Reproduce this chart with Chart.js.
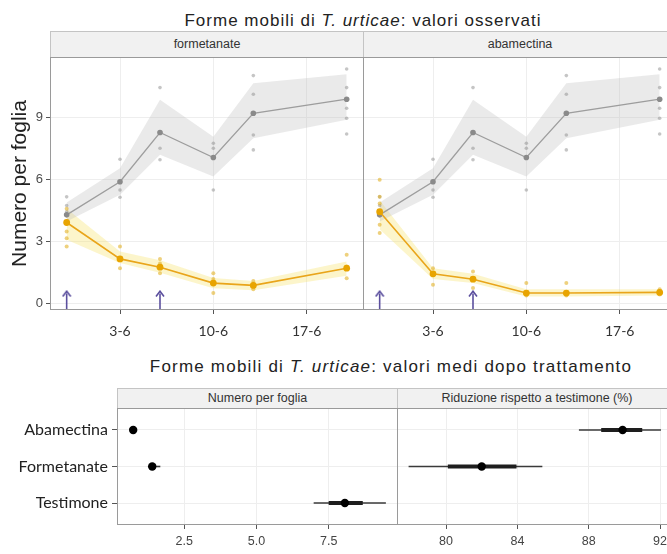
<!DOCTYPE html>
<html>
<head>
<meta charset="utf-8">
<script src="https://cdn.jsdelivr.net/npm/chart.js@4.4.1/dist/chart.umd.min.js"></script>
<style>
  html, body { margin: 0; padding: 0; background: #fff; }
  body { width: 667px; height: 554px; position: relative; overflow: hidden; font-family: "Liberation Sans", Arial, sans-serif; }
  .box { position: absolute; }
  .title { position: absolute; text-align: center; font-size: 17px; color: #222; white-space: nowrap; }
  .strip { position: absolute; box-sizing: border-box; background: #f1f1f1; border: 1px solid #c4c4c4; text-align: center; font-size: 12.5px; color: #333; }
</style>
</head>
<body>
<div class="title" style="left:50px; width:626px; top:11px; letter-spacing:1px">Forme mobili di <i>T. urticae</i>: valori osservati</div>
<div class="strip" style="left:50px; top:31px; width:314px; height:27px; line-height:25px">formetanate</div>
<div class="strip" style="left:363px; top:31px; width:314px; height:27px; line-height:25px">abamectina</div>
<div class="box" style="left:0; top:57px; width:364px; height:290px"><canvas id="obsForm"></canvas></div>
<div class="box" style="left:363px; top:57px; width:314px; height:290px"><canvas id="obsAba"></canvas></div>

<div class="title" style="left:111px; width:560px; top:357px; letter-spacing:1.2px">Forme mobili di <i>T. urticae</i>: valori medi dopo trattamento</div>
<div class="strip" style="left:117px; top:388px; width:281px; height:21px; line-height:19px">Numero per foglia</div>
<div class="strip" style="left:397px; top:388px; width:280px; height:21px; line-height:19px">Riduzione rispetto a testimone (%)</div>
<div class="box" style="left:0; top:408px; width:398px; height:146px"><canvas id="meanNum"></canvas></div>
<div class="box" style="left:397px; top:408px; width:280px; height:146px"><canvas id="meanRed"></canvas></div>

<script>
// days from 3-6
const days = [-4, 0, 3, 7, 10, 17];
const dayTicks = [0, 7, 14];
const dayLabels = ["3-6", "10-6", "17-6"];
const treatDays = [-4, 3];
const countTicks = [0, 3, 6, 9];

// testimone (same control in both panels)
const testMean = [4.3, 5.9, 8.28, 7.07, 9.21, 9.89];
const testLo = [3.98, 5.27, 7.2, 6.15, 8.0, 8.9];
const testHi = [4.9, 6.55, 9.86, 8.08, 10.66, 11.1];
const testObs = [[5.17, 4.75, 4.45], [6.99, 5.5, 5.15], [10.45, 7.52, 6.96], [7.76, 7.52, 5.5], [11.03, 10.13, 8.16, 7.44], [11.35, 10.45, 9.45, 8.97, 8.21]];

// formetanate
const formMean = [3.93, 2.17, 1.77, 1.0, 0.89, 1.72];
const formLo = [3.1, 1.97, 1.5, 0.75, 0.65, 1.35];
const formHi = [4.6, 2.53, 2.1, 1.25, 1.1, 2.05];
const formObs = [[4.6, 3.5, 3.17, 2.77], [2.77, 2.2, 1.72], [2.17, 1.95, 1.48], [1.48, 1.2, 0.52], [1.1, 0.95, 0.7], [2.37, 1.8, 1.24]];

// abamectina
const abaMean = [4.45, 1.45, 1.19, 0.52, 0.52, 0.55];
const abaLo = [3.6, 1.2, 1.0, 0.35, 0.35, 0.4];
const abaHi = [5.0, 1.72, 1.45, 0.7, 0.7, 0.7];
const abaObs = [[6.0, 5.18, 4.85, 3.82, 3.42], [1.72, 1.45, 0.92], [1.56, 1.2, 0.76], [1.0, 0.5, 0.4], [1.0, 0.5, 0.4], [0.7, 0.55, 0.45]];

// medie dopo trattamento
const products = ["Abamectina", "Formetanate", "Testimone"];
const numMean = [0.73, 1.39, 8.06];
const numLo95 = [0.64, 1.24, 6.98];
const numHi95 = [0.83, 1.67, 9.48];
const numLo50 = [0.68, 1.3, 7.5];
const numHi50 = [0.78, 1.52, 8.68];
const numTicks = [2.5, 5, 7.5];

const redMean = [89.9, 82.0];
const redLo95 = [87.45, 77.9];
const redHi95 = [92.05, 85.4];
const redLo50 = [88.7, 80.1];
const redHi50 = [91.0, 83.95];
const redTicks = [80, 84, 88, 92];

const panelBorder = {
  id: "panelBorder",
  afterDraw(chart) {
    const a = chart.chartArea, c = chart.ctx;
    c.save();
    c.strokeStyle = "#9a9a9a";
    c.lineWidth = 1;
    c.strokeRect(a.left + 0.5, a.top + 0.5, a.right - a.left - 1, a.bottom - a.top - 1);
    c.restore();
  }
};

function arrowHead() {
  const c = document.createElement("canvas");
  c.width = 10; c.height = 7;
  const g = c.getContext("2d");
  g.strokeStyle = "#5b4f9e";
  g.lineWidth = 1.6;
  g.beginPath();
  g.moveTo(1, 6.5); g.lineTo(5, 1.2); g.lineTo(9, 6.5);
  g.stroke();
  return c;
}
const arrowImg = arrowHead();

const line = (vals) => days.map((d, i) => ({ x: d, y: vals[i] }));
const cloud = (obs) => obs.flatMap((list, i) => list.map(v => ({ x: days[i], y: v })));

// no extra room for half tick labels: plot area must sit right under the strips
function fitX(h) {
  return s => { s.height = h; s.paddingLeft = 0; s.paddingRight = 0; };
}
function fitY(w) {
  return s => { s.width = w; s.paddingTop = 0; s.paddingBottom = 0; };
}

function band(hi, lo, color) {
  return [
    { data: line(hi), showLine: true, fill: "+1", backgroundColor: color, borderWidth: 0, pointRadius: 0, order: 10 },
    { data: line(lo), showLine: true, fill: false, borderWidth: 0, pointRadius: 0, order: 10 }
  ];
}

function obsChart(id, mean, lo, hi, obs, showY) {
  const datasets = [
    ...band(testHi, testLo, "rgba(190,190,190,0.32)"),
    ...band(hi, lo, "rgba(246,226,110,0.36)"),
    { data: cloud(testObs), pointRadius: 1.8, backgroundColor: "rgba(150,150,150,0.55)", borderWidth: 0, order: 6 },
    { data: cloud(obs), pointRadius: 2, backgroundColor: "rgba(226,178,40,0.6)", borderWidth: 0, order: 5 },
    { data: line(testMean), showLine: true, borderColor: "#9d9d9d", borderWidth: 1.3, pointRadius: 2.8, backgroundColor: "#8a8a8a", pointBorderWidth: 0, order: 3 },
    { data: line(mean), showLine: true, borderColor: "#e9a51a", borderWidth: 1.6, pointRadius: 3.4, backgroundColor: "#e8a400", pointBorderWidth: 0, order: 2 },
    ...treatDays.map(d => ({
      data: [{ x: d, y: -0.3 }, { x: d, y: 0.5 }], showLine: true, borderColor: "#5b4f9e", borderWidth: 1.6,
      pointRadius: [0, 3], pointStyle: arrowImg, order: 1
    }))
  ];
  return new Chart(document.getElementById(id), {
    type: "scatter",
    data: { datasets },
    plugins: [panelBorder],
    options: {
      responsive: true,
      maintainAspectRatio: false,
      animation: false,
      layout: { padding: 0, autoPadding: false },
      plugins: { legend: { display: false }, tooltip: { enabled: false } },
      scales: {
        x: {
          type: "linear", min: -5.25, max: 18.3,
          afterBuildTicks: s => { s.ticks = dayTicks.map(v => ({ value: v })); },
          afterFit: fitX(37),
          ticks: { callback: v => dayLabels[dayTicks.indexOf(v)], font: { family: "Lato", size: 14 }, color: "#333", padding: 9, maxRotation: 0 },
          grid: { color: "#eeeeee", tickColor: "#555", tickLength: 4 },
          border: { display: false }
        },
        y: {
          type: "linear", min: -0.3, max: 11.93,
          afterBuildTicks: s => { s.ticks = countTicks.map(v => ({ value: v })); },
          afterFit: fitY(showY ? 50 : 0),
          ticks: { display: showY, font: { family: "Liberation Sans", size: 13 }, color: "#4d4d4d", padding: 3 },
          grid: { color: "#eeeeee", tickColor: "#555", tickLength: 4, drawTicks: showY },
          border: { display: false },
          title: { display: showY, text: "Numero per foglia", font: { family: "Liberation Sans", size: 21 }, color: "#222", padding: { top: 8, bottom: 0 } }
        }
      }
    }
  });
}

function meanChart(id, mean, lo95, hi95, lo50, hi50, xmin, xmax, ticks, fmt, showY) {
  const datasets = [
    { data: mean.map((m, i) => ({ x: m, y: i + 1 })), pointRadius: 4.2, backgroundColor: "#000", borderWidth: 0, order: 1 }
  ];
  mean.forEach((m, i) => {
    datasets.push({ data: [{ x: lo50[i], y: i + 1 }, { x: hi50[i], y: i + 1 }], showLine: true, borderColor: "#1e1e1e", borderWidth: 4, pointRadius: 0, order: 2 });
    datasets.push({ data: [{ x: lo95[i], y: i + 1 }, { x: hi95[i], y: i + 1 }], showLine: true, borderColor: "#3a3a3a", borderWidth: 1.6, pointRadius: 0, order: 3 });
  });
  return new Chart(document.getElementById(id), {
    type: "scatter",
    data: { datasets },
    plugins: [panelBorder],
    options: {
      responsive: true,
      maintainAspectRatio: false,
      animation: false,
      layout: { padding: 0, autoPadding: false },
      plugins: { legend: { display: false }, tooltip: { enabled: false } },
      scales: {
        x: {
          type: "linear", min: xmin, max: xmax,
          afterBuildTicks: s => { s.ticks = ticks.map(v => ({ value: v })); },
          afterFit: fitX(29),
          ticks: { callback: fmt, font: { family: "Liberation Sans", size: 12.5 }, color: "#444", padding: 5, maxRotation: 0 },
          grid: { color: "#eeeeee", tickColor: "#555", tickLength: 4 },
          border: { display: false }
        },
        y: {
          type: "linear", min: 0.4, max: 3.6, reverse: true,
          afterBuildTicks: s => { s.ticks = products.map((p, i) => ({ value: i + 1 })); },
          afterFit: fitY(showY ? 117 : 0),
          ticks: { display: showY, callback: v => products[v - 1], font: { family: "Lato", size: 16 }, color: "#222", padding: 4 },
          grid: { color: "#eeeeee", tickColor: "#555", tickLength: 5, drawTicks: showY },
          border: { display: false }
        }
      }
    }
  });
}

obsChart("obsForm", formMean, formLo, formHi, formObs, true);
obsChart("obsAba", abaMean, abaLo, abaHi, abaObs, false);
meanChart("meanNum", numMean, numLo95, numHi95, numLo50, numHi50, 0.17, 9.9, numTicks, v => v.toFixed(1), true);
meanChart("meanRed", redMean, redLo95, redHi95, redLo50, redHi50, 77.25, 92.95, redTicks, v => String(v), false);
</script>
</body>
</html>
